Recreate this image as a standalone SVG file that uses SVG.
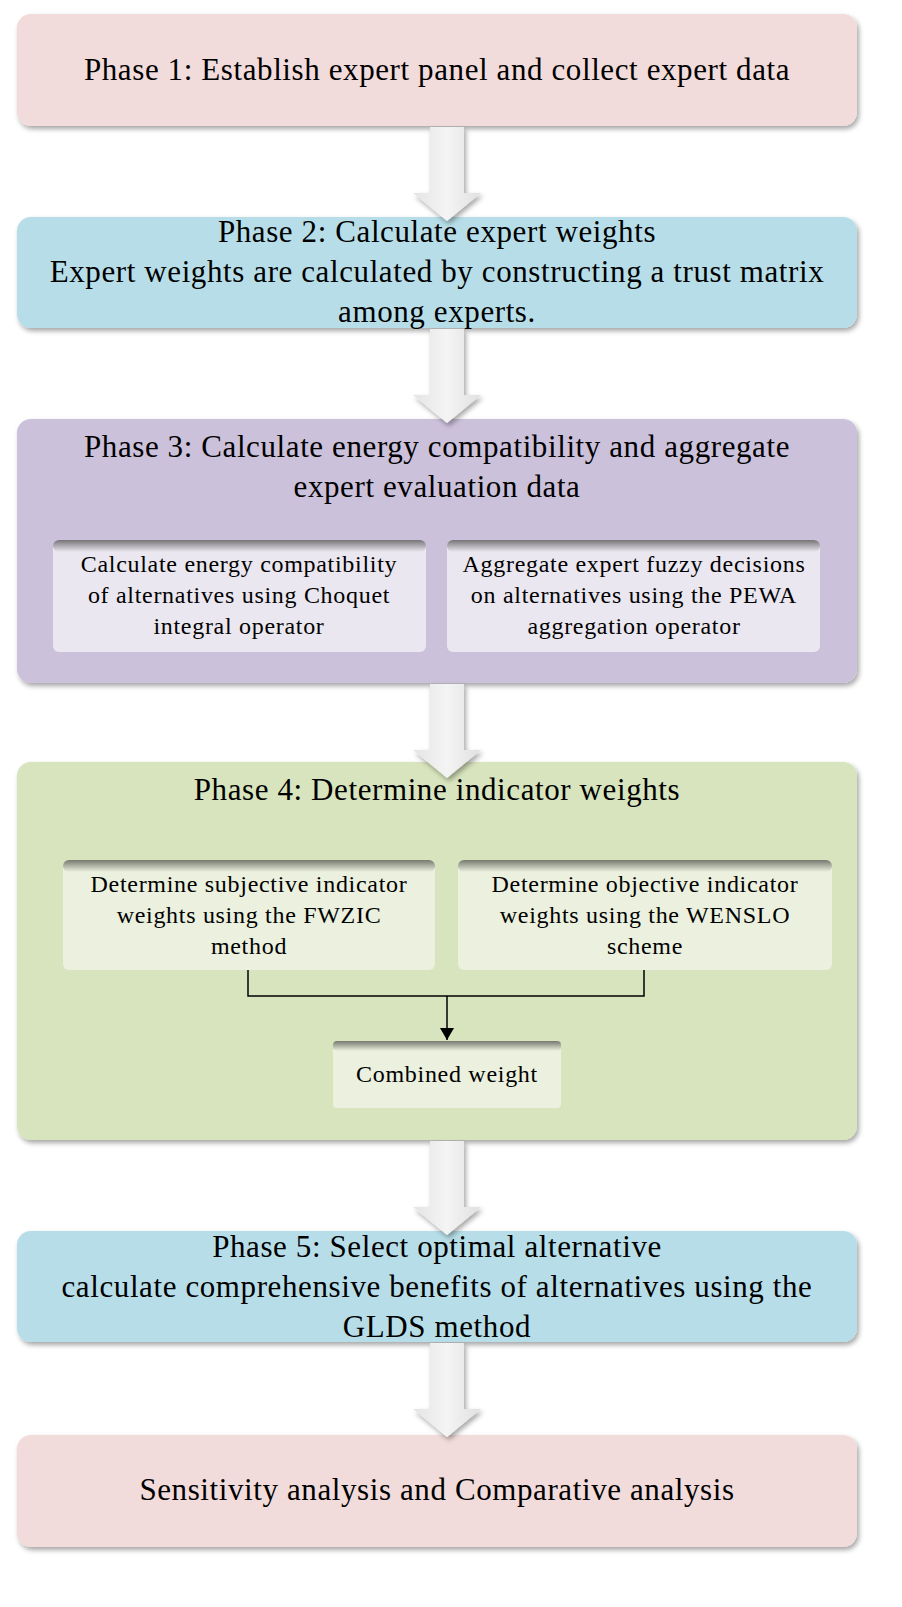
<svg xmlns="http://www.w3.org/2000/svg" width="902" height="1607" viewBox="0 0 902 1607">
<style>
text{font-family:"Liberation Serif","Times New Roman",serif;fill:#000;text-anchor:middle}
.t{font-size:31px;letter-spacing:0.6px}.s{font-size:24px;letter-spacing:0.7px}
.shadow{filter:url(#sh)}
</style>
<defs>
<filter id="sh" x="-10%" y="-10%" width="120%" height="130%"><feDropShadow dx="2" dy="3" stdDeviation="2.5" flood-color="#000" flood-opacity="0.35"/></filter>
<linearGradient id="ins" x1="0" y1="0" x2="0" y2="1"><stop offset="0" stop-color="#000" stop-opacity="0.5"/><stop offset="1" stop-color="#000" stop-opacity="0"/></linearGradient>
<linearGradient id="arr" x1="0" y1="0" x2="1" y2="0"><stop offset="0" stop-color="#e4e4e4"/><stop offset="0.5" stop-color="#f4f4f4"/><stop offset="1" stop-color="#e0e0e0"/></linearGradient>
<marker id="ah" markerWidth="12" markerHeight="14" refX="12" refY="7" orient="auto" markerUnits="userSpaceOnUse"><path d="M0,0 L12,7 L0,14z" fill="#000"/></marker>
<g id="bigArrow"><path d="M-17,0 H17 V66 H34 L0,94 L-34,66 H-17 Z" fill="url(#arr)" filter="url(#sh)"/></g>
</defs>
<g id="phase1"><rect x="17" y="14" width="840" height="112" rx="14" fill="#f2dcdb" class="shadow"/><text class="t" x="437" y="80">Phase 1: Establish expert panel and collect expert data</text></g>
<g id="phase2"><rect x="17" y="217" width="840" height="111" rx="14" fill="#b7dee8" class="shadow"/><text class="t" x="437" y="242">Phase 2: Calculate expert weights</text><text class="t" x="437" y="282">Expert weights are calculated by constructing a trust matrix</text><text class="t" x="437" y="322">among experts.</text></g>
<g id="phase3"><rect x="17" y="419" width="840" height="264" rx="14" fill="#ccc1da" class="shadow"/><text class="t" x="437" y="457">Phase 3: Calculate energy compatibility  and aggregate</text><text class="t" x="437" y="497">expert evaluation data</text></g>
<g id="p3a"><rect x="53" y="540" width="373" height="112" rx="6" fill="#ebe7f0"/><rect x="53" y="540" width="373" height="12" rx="6" fill="url(#ins)"/><text class="s" x="239" y="572">Calculate energy compatibility</text><text class="s" x="239" y="603">of alternatives using Choquet</text><text class="s" x="239" y="634">integral operator</text></g>
<g id="p3b"><rect x="447" y="540" width="373" height="112" rx="6" fill="#ebe7f0"/><rect x="447" y="540" width="373" height="12" rx="6" fill="url(#ins)"/><text class="s" x="634" y="572">Aggregate expert fuzzy decisions</text><text class="s" x="634" y="603">on alternatives using the PEWA</text><text class="s" x="634" y="634">aggregation operator</text></g>
<g id="phase4"><rect x="17" y="762" width="840" height="378" rx="14" fill="#d7e4bd" class="shadow"/><text class="t" x="437" y="800">Phase 4: Determine indicator weights</text></g>
<g id="p4a"><rect x="63" y="860" width="372" height="110" rx="6" fill="#ebf1de"/><rect x="63" y="860" width="372" height="12" rx="6" fill="url(#ins)"/><text class="s" x="249" y="892">Determine subjective indicator</text><text class="s" x="249" y="923">weights using the FWZIC</text><text class="s" x="249" y="954">method</text></g>
<g id="p4b"><rect x="458" y="860" width="374" height="110" rx="6" fill="#ebf1de"/><rect x="458" y="860" width="374" height="12" rx="6" fill="url(#ins)"/><text class="s" x="645" y="892">Determine objective indicator</text><text class="s" x="645" y="923">weights using the WENSLO</text><text class="s" x="645" y="954">scheme</text></g>
<g id="p4c"><rect x="333" y="1041" width="228" height="67" rx="4" fill="#ebf1de"/><rect x="333" y="1041" width="228" height="10" rx="4" fill="url(#ins)"/><text class="s" x="447" y="1082">Combined weight</text></g>
<g id="phase5"><rect x="17" y="1231" width="840" height="111" rx="14" fill="#b7dee8" class="shadow"/><text class="t" x="437" y="1257">Phase 5: Select optimal alternative</text><text class="t" x="437" y="1297">calculate comprehensive benefits of alternatives using the</text><text class="t" x="437" y="1337">GLDS method</text></g>
<g id="final"><rect x="17" y="1435" width="840" height="112" rx="14" fill="#f2dcdb" class="shadow"/><text class="t" x="437" y="1500">Sensitivity analysis and Comparative analysis</text></g>
<g id="connectors">
<use href="#bigArrow" x="447" y="127"/>
<use href="#bigArrow" x="447" y="329"/>
<use href="#bigArrow" x="447" y="684"/>
<use href="#bigArrow" x="447" y="1141"/>
<use href="#bigArrow" x="447" y="1343"/>
<path d="M248,970 V996 H644 V970" fill="none" stroke="#000" stroke-width="1.5"/>
<path d="M447,996 V1040" fill="none" stroke="#000" stroke-width="1.5" marker-end="url(#ah)"/>
</g>
</svg>
